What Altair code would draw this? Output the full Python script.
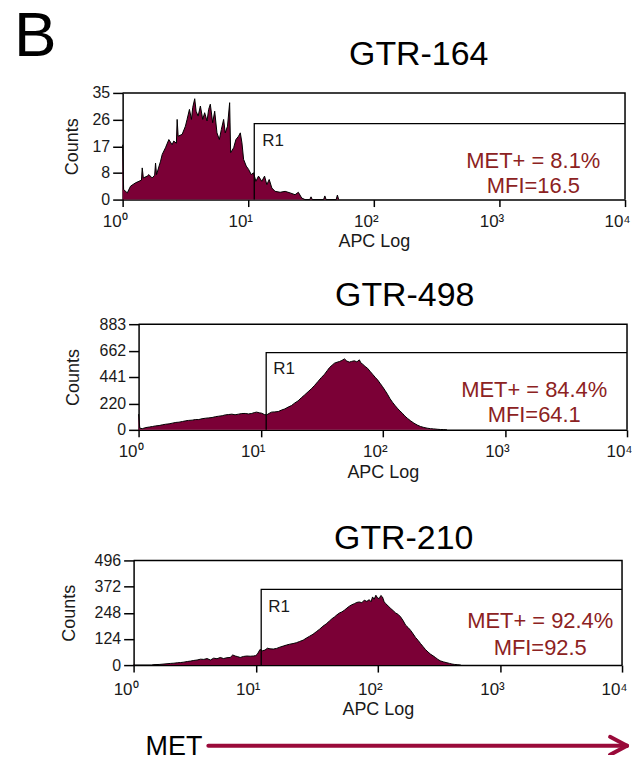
import altair as alt
import pandas as pd

FONT = "Liberation Sans"
FILL = "#7b0036"
RED_TXT = "#8c2222"
ARROW = "#9a0a3a"
INK = "#1a1a1a"

# x axis: APC fluorescence, decades 10^0 .. 10^4 (positions in log10 units)
x_ticks = [0, 1, 2, 3, 4]
x_tick_labels = ["10⁰", "10¹", "10²", "10³", "10⁴"]

# ---------------- GTR-164 ----------------
p1_log = [0.000, 0.008, 0.037, 0.063, 0.103, 0.130, 0.150, 0.156, 0.165, 0.196, 0.209, 0.235,
          0.255, 0.262, 0.270, 0.302, 0.315, 0.341, 0.368, 0.394, 0.407, 0.428, 0.434, 0.442,
          0.474, 0.500, 0.513, 0.532, 0.548, 0.558, 0.574, 0.585, 0.601, 0.619, 0.638, 0.653,
          0.672, 0.685, 0.698, 0.717, 0.733, 0.751, 0.770, 0.786, 0.804, 0.817, 0.835, 0.852,
          0.860, 0.884, 0.902, 0.923, 0.937, 0.950, 0.963, 0.984, 1.003, 1.024, 1.042, 1.061,
          1.082, 1.108, 1.130, 1.148, 1.167, 1.188, 1.214, 1.254, 1.294, 1.333, 1.373, 1.399,
          1.426, 1.452, 1.490, 1.500, 1.510, 1.600, 1.610, 1.620, 1.700, 1.710, 1.720]
p1_cnt = [18.0, 3.3, 2.2, 4.4, 5.5, 6.0, 6.4, 10.4, 7.1, 7.7, 8.2, 7.1,
          8.0, 12.0, 8.2, 12.6, 14.8, 17.0, 19.7, 18.0, 19.2, 18.5, 26.3, 20.8,
          21.4, 24.1, 26.3, 29.6, 26.3, 30.2, 33.1, 29.0, 27.4, 30.7, 26.3, 28.5,
          25.8, 29.6, 31.3, 25.2, 29.0, 21.9, 19.7, 23.0, 26.3, 21.9, 24.1, 31.8,
          15.4, 17.0, 19.7, 20.8, 21.9, 18.6, 13.2, 11.0, 9.9, 8.2, 8.8, 6.0,
          7.7, 6.0, 7.7, 4.9, 6.6, 3.8, 2.7, 2.4, 2.7, 2.2, 1.6, 2.4,
          0.5, 0.0, 0.0, 0.9, 0.0, 0.0, 1.2, 0.0, 0.0, 1.5, 0.0]

# ---------------- GTR-498 ----------------
p2_log = [0.000, 0.010, 0.030, 0.060, 0.090, 0.114, 0.140, 0.168, 0.195, 0.222, 0.250, 0.276,
          0.305, 0.331, 0.360, 0.385, 0.410, 0.439, 0.465, 0.493, 0.520, 0.547, 0.575, 0.602,
          0.630, 0.656, 0.685, 0.710, 0.738, 0.764, 0.790, 0.818, 0.845, 0.873, 0.900, 0.927,
          0.950, 0.967, 0.990, 1.008, 1.030, 1.049, 1.070, 1.089, 1.115, 1.144, 1.170, 1.198,
          1.225, 1.252, 1.280, 1.306, 1.333, 1.360, 1.388, 1.415, 1.442, 1.469, 1.496, 1.523,
          1.545, 1.564, 1.585, 1.604, 1.625, 1.645, 1.665, 1.686, 1.705, 1.726, 1.745, 1.767,
          1.788, 1.808, 1.820, 1.835, 1.855, 1.875, 1.895, 1.916, 1.937, 1.957, 1.977, 1.997,
          2.018, 2.038, 2.058, 2.079, 2.099, 2.119, 2.140, 2.160, 2.180, 2.201, 2.228, 2.255,
          2.282, 2.309, 2.336, 2.363, 2.390, 2.417, 2.445, 2.472, 2.499, 2.526]
p2_cnt = [131, 14, 10, 19, 24, 28, 33, 36, 42, 47, 50, 56,
          62, 64, 70, 75, 79, 81, 86, 86, 93, 97, 100, 103,
          110, 114, 118, 125, 128, 131, 126, 131, 136, 137, 133, 137,
          145, 148, 142, 139, 128, 125, 138, 148, 150, 153, 165, 175,
          190, 203, 225, 242, 268, 292, 318, 343, 372, 404, 436, 465,
          495, 521, 540, 557, 565, 571, 580, 593, 575, 566, 572, 577,
          568, 585, 560, 549, 530, 515, 490, 465, 440, 418, 390, 362,
          330, 298, 262, 231, 205, 181, 158, 139, 116, 97, 75, 56,
          40, 28, 20, 14, 10, 8, 5, 3, 2, 0]

# ---------------- GTR-210 ----------------
p3_log = [0.000, 0.010, 0.150, 0.160, 0.209, 0.249, 0.304, 0.330, 0.358, 0.385, 0.412, 0.440,
          0.466, 0.493, 0.520, 0.548, 0.575, 0.602, 0.629, 0.656, 0.683, 0.710, 0.737, 0.764,
          0.791, 0.812, 0.832, 0.853, 0.873, 0.900, 0.927, 0.955, 0.981, 1.000, 1.014, 1.035,
          1.055, 1.076, 1.096, 1.117, 1.144, 1.171, 1.198, 1.225, 1.252, 1.279, 1.306, 1.333,
          1.360, 1.388, 1.415, 1.442, 1.469, 1.496, 1.523, 1.550, 1.577, 1.604, 1.625, 1.645,
          1.665, 1.686, 1.706, 1.726, 1.747, 1.767, 1.788, 1.808, 1.828, 1.848, 1.869, 1.889,
          1.910, 1.930, 1.944, 1.957, 1.970, 1.984, 1.998, 2.011, 2.025, 2.038, 2.052, 2.065,
          2.085, 2.106, 2.126, 2.146, 2.167, 2.187, 2.208, 2.228, 2.248, 2.268, 2.289, 2.309,
          2.330, 2.350, 2.370, 2.390, 2.411, 2.431, 2.452, 2.472, 2.492, 2.512, 2.539, 2.566,
          2.587, 2.607, 2.630, 2.650, 2.680]
p3_cnt = [3, 0, 0, 2, 3, 5, 8, 9, 11, 12, 14, 17,
          19, 22, 24, 28, 27, 31, 24, 33, 30, 36, 31, 35,
          36, 48, 43, 40, 36, 41, 43, 42, 43, 45, 52, 74,
          68, 71, 80, 77, 76, 79, 85, 90, 95, 99, 102, 106,
          112, 118, 128, 137, 146, 158, 170, 184, 195, 209, 220, 228,
          238, 247, 252, 260, 270, 279, 286, 291, 297, 299, 296, 307,
          302, 310, 300, 323, 312, 331, 318, 315, 330, 323, 300, 291,
          280, 268, 258, 247, 240, 228, 210, 189, 178, 165, 148, 131,
          117, 102, 88, 74, 62, 52, 44, 36, 27, 20, 15, 11,
          8, 5, 3, 2, 0]

panels = [
    dict(title="GTR-164", log=p1_log, cnt=p1_cnt, ymax=35,
         gate_x=1.048, gate_y=24.9, r1=(1.111, 17.7),
         met="MET+ = 8.1%", mfi="MFI=16.5", txt_x=3.27, met_y=10.5, mfi_y=2.0,
         width=504, height=107, rng=(0, 504), yoff=0, ytitle_x=-50,
         xlab_pad=20, xtitle_y=47, title_xy=(297, -28),
         anchors=[(-114, -94), (0, 164)]),
    dict(title="GTR-498", log=p2_log, cnt=p2_cnt, ymax=883,
         gate_x=1.045, gate_y=645, r1=(1.102, 466),
         met="MET+ = 84.4%", mfi="MFI=64.1", txt_x=3.24, met_y=275, mfi_y=67,
         width=506, height=106, rng=(16, 506), yoff=-16, ytitle_x=-65,
         xlab_pad=20, xtitle_y=48, title_xy=(283, -18),
         anchors=[(0, -66), (0, 166)]),
    dict(title="GTR-210", log=p3_log, cnt=p3_cnt, ymax=496,
         gate_x=1.045, gate_y=359, r1=(1.102, 250),
         met="MET+ = 92.4%", mfi="MFI=92.5", txt_x=3.33, met_y=175, mfi_y=47,
         width=501, height=105, rng=(11, 501), yoff=-11, ytitle_x=-64,
         xlab_pad=23, xtitle_y=50, title_xy=(282, -11),
         anchors=[(0, -69)]),
]

one = pd.DataFrame({"k": [0]})
label_expr = "[" + ",".join("'" + s + "'" for s in x_tick_labels) + "][datum.value]"


def build(p, extra):
    ymax = p["ymax"]
    xs = alt.Scale(domain=[0, 4], range=list(p["rng"]), nice=False, zero=False)
    ys = alt.Scale(domain=[0, ymax], nice=False, zero=True)
    xaxis = alt.Axis(values=x_ticks, tickCount=5, labelExpr=label_expr, title="APC Log",
                     grid=False, domainColor="black", domainWidth=1.5, tickColor="black",
                     tickWidth=1.5, tickSize=7, labelFont=FONT, labelFontSize=17,
                     labelColor=INK, labelBaseline="alphabetic", labelPadding=p["xlab_pad"],
                     labelOffset=-8, labelFlush=False, labelOverlap=False, titleFont=FONT,
                     titleFontSize=18, titleFontWeight="normal", titleColor=INK,
                     titleBaseline="alphabetic", titleY=p["xtitle_y"])
    yargs = dict(values=[ymax * i / 4 for i in range(5)], tickCount=5,
                 labelExpr="floor(datum.value)",
                 title="Counts", grid=False, domainColor="black", domainWidth=1.5,
                 tickColor="black", tickWidth=1.5, tickSize=10, labelPadding=3,
                 labelFont=FONT, labelFontSize=16, labelColor=INK, labelOverlap=False,
                 labelFlush=False, titleFont=FONT, titleFontSize=18, titleFontWeight="normal",
                 titleColor=INK, titleAngle=270, titleAlign="center", titleBaseline="middle",
                 titleX=p["ytitle_x"], titleY=p["height"] / 2)
    if p["yoff"]:
        yargs["offset"] = p["yoff"]
    yaxis = alt.Axis(**yargs)

    hist = pd.DataFrame({"lx": p["log"], "c": p["cnt"]})
    X = alt.X("lx:Q")
    Y = alt.Y("c:Q")
    area = alt.Chart(hist).mark_area(color=FILL, interpolate="linear").encode(
        x=alt.X("lx:Q", scale=xs, axis=xaxis), y=alt.Y("c:Q", scale=ys, axis=yaxis))
    outline = alt.Chart(hist).mark_line(color="black", strokeWidth=1).encode(x=X, y=Y)

    frame = alt.Chart(pd.DataFrame({"lx": [0, 4, 4], "c": [ymax, ymax, 0], "o": [0, 1, 2]})) \
        .mark_line(color="black", strokeWidth=1.5).encode(x=X, y=Y, order="o:Q")
    gate = alt.Chart(pd.DataFrame({"lx": [p["gate_x"], p["gate_x"], 4],
                                   "c": [0, p["gate_y"], p["gate_y"]], "o": [0, 1, 2]})) \
        .mark_line(color="black", strokeWidth=1.3).encode(x=X, y=Y, order="o:Q")
    r1 = alt.Chart(pd.DataFrame({"lx": [p["r1"][0]], "c": [p["r1"][1]], "t": ["R1"]})) \
        .mark_text(align="left", baseline="alphabetic", font=FONT, fontSize=17, color=INK) \
        .encode(x=X, y=Y, text="t:N")
    stats = alt.Chart(pd.DataFrame({"lx": [p["txt_x"], p["txt_x"]],
                                    "c": [p["met_y"], p["mfi_y"]], "t": [p["met"], p["mfi"]]})) \
        .mark_text(align="center", baseline="alphabetic", font=FONT, fontSize=22, color=RED_TXT) \
        .encode(x=X, y=Y, text="t:N")
    title = alt.Chart(one).mark_text(text=p["title"], font=FONT, fontSize=34, color="black",
                                     align="center", baseline="alphabetic").encode(
        x=alt.value(p["title_xy"][0]), y=alt.value(p["title_xy"][1]))
    layers = [area, outline, frame, gate, r1, stats, title]
    for ax, ay in p["anchors"]:
        layers.append(alt.Chart(one).mark_text(text=".", fontSize=2, opacity=0, baseline="middle")
                      .encode(x=alt.value(ax), y=alt.value(ay)))
    layers += extra
    return alt.layer(*layers).properties(width=p["width"], height=p["height"])


panel_b = alt.Chart(one).mark_text(text="B", font=FONT, fontSize=64, color="black",
                                   align="left", baseline="alphabetic").encode(
    x=alt.value(-109), y=alt.value(-37))

met_label = alt.Chart(one).mark_text(text="MET", font=FONT, fontSize=27, color="black",
                                     align="left", baseline="alphabetic").encode(
    x=alt.value(23), y=alt.value(195))
shaft = alt.Chart(one).mark_rule(color=ARROW, strokeWidth=4, strokeCap="round").encode(
    x=alt.value(86), x2=alt.value(506), y=alt.value(186))
head1 = alt.Chart(one).mark_rule(color=ARROW, strokeWidth=4, strokeCap="round").encode(
    x=alt.value(489), y=alt.value(177), x2=alt.value(506), y2=alt.value(186))
head2 = alt.Chart(one).mark_rule(color=ARROW, strokeWidth=4, strokeCap="round").encode(
    x=alt.value(489), y=alt.value(195), x2=alt.value(506), y2=alt.value(186))

c1 = build(panels[0], [panel_b])
c2 = build(panels[1], [])
c3 = build(panels[2], [met_label, shaft, head1, head2])

chart = alt.vconcat(c1, c2, c3, spacing=0).properties(
    padding={"left": 0, "top": -11, "right": -1, "bottom": -6},
    background="white",
).configure_view(stroke=None)

chart.save("out.html", embed_options={"renderer": "svg", "actions": False})
